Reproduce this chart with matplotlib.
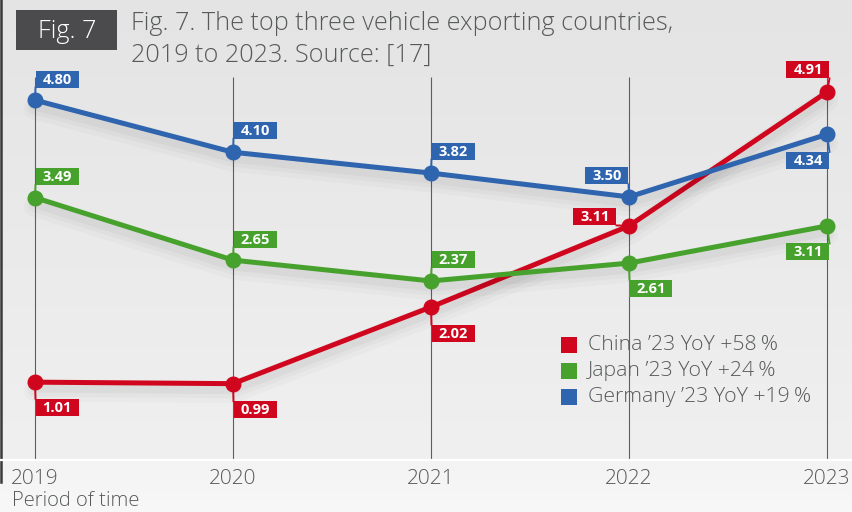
import matplotlib
matplotlib.use("Agg")
import matplotlib.pyplot as plt
import matplotlib.transforms as mtransforms
from matplotlib.patches import Rectangle
from matplotlib.lines import Line2D
from matplotlib import patheffects
import numpy as np

plt.rcParams["font.family"] = ["Open Sans", "DejaVu Sans"]

# exports in million vehicles
years = [2019, 2020, 2021, 2022, 2023]
china = [1.01, 0.99, 2.02, 3.11, 4.91]
japan = [3.49, 2.65, 2.37, 2.61, 3.11]
germany = [4.80, 4.10, 3.82, 3.50, 4.34]
countries = ["China", "Japan", "Germany"]
yoy_growth = [58, 24, 19]

RED = "#d0061f"
GREEN = "#47a12d"
BLUE = "#2f64ae"
TEXT = "#58595b"

# where each value box sits relative to its point (pixels, y up)
china_boxes = [(22, -25), (22, -26), (22, -26), (-34, 9), (-19, 22)]
japan_boxes = [(22, 21), (22, 21), (22, 21), (22, -25), (-19, -26)]
germany_boxes = [(22, 21), (22, 22), (22, 22), (-22, 21), (-19, -26)]

W, H = 853, 512
fig = plt.figure(figsize=(W / 100, H / 100), dpi=100)


def fx(px):
    return px / W


def fy(py):
    return 1 - py / H


# background: soft vertical gradient, lighter strip under the axis
bg = fig.add_axes([0, 0, 1, 1])
bg.set_axis_off()
top = np.array([0xe3, 0xe4, 0xe3]) / 255
mid = np.array([0xef, 0xf0, 0xef]) / 255
low1 = np.array([0xf2, 0xf3, 0xf2]) / 255
low2 = np.array([0xf7, 0xf8, 0xf7]) / 255
grad = np.zeros((H, 1, 3))
for r in range(H):
    if r < 460:
        t = r / 460
        grad[r, 0] = top * (1 - t) + mid * t
    else:
        t = (r - 460) / (H - 460)
        grad[r, 0] = low1 * (1 - t) + low2 * t
bg.imshow(grad, aspect="auto", extent=[0, 1, 0, 1])
bg.set_xlim(0, 1)
bg.set_ylim(0, 1)

# left frame edge and the white baseline
fig.add_artist(Line2D([fx(1), fx(1)], [fy(0), fy(482)], color="#3a3a3a", lw=1.8))
fig.add_artist(Line2D([0, 1], [fy(460), fy(460)], color="white", lw=1.6))

ax = fig.add_axes([0, fy(460), 1, 460 / H])
ax.set_facecolor("none")
ax.set_xlim(2019 - 35 / 198, 2023 + 26 / 198)
ax.set_ylim(-0.036, 6.146)
for s in ax.spines.values():
    s.set_visible(False)
ax.set_yticks([])
ax.set_xticks(years)
ax.set_xticklabels([str(y) for y in years], fontweight="light")
ax.tick_params(axis="x", length=0, pad=6.5, labelsize=15, labelcolor=TEXT)

ax.vlines(years, -0.036, 5.11, color="#5e5e5e", lw=0.8, zorder=1)

# soft drop shadow below each line
shadow = [
    patheffects.SimpleLineShadow(offset=(0, -6), shadow_color="k", alpha=0.018, linewidth=16),
    patheffects.SimpleLineShadow(offset=(0, -5), shadow_color="k", alpha=0.025, linewidth=11),
    patheffects.SimpleLineShadow(offset=(0, -4), shadow_color="k", alpha=0.03, linewidth=7),
    patheffects.Normal(),
]

series = [(china, RED, china_boxes), (japan, GREEN, japan_boxes), (germany, BLUE, germany_boxes)]
for i, (vals, col, boxes) in enumerate(series):
    ax.plot(years, vals, color=col, lw=3.6, solid_capstyle="round",
            path_effects=shadow, zorder=3 + i)
    ax.plot(years, vals, "o", color=col, ms=10.5, zorder=3 + i)

# value boxes with a short connector to the point
bw, bh = 43, 17
for vals, col, boxes in series:
    for x, v, (dx, dy) in zip(years, vals, boxes):
        tr = mtransforms.ScaledTranslation(x, v, ax.transData)
        cx = dx - bw / 2 if dx > 0 else dx + bw / 2
        cy = dy - bh / 2 if dy > 0 else dy + bh / 2
        fig.add_artist(Line2D([0, cx], [0, cy], color=col, lw=1.4, transform=tr, zorder=8))
        fig.add_artist(Rectangle((dx - bw / 2, dy - bh / 2), bw, bh, facecolor=col,
                                 edgecolor="none", transform=tr, zorder=9))
        fig.text(dx, dy - 0.5, f"{v:.2f}", transform=tr, color="white", fontsize=10.5,
                 fontweight="bold", ha="center", va="center", zorder=10)

# legend
legend_cols = [RED, GREEN, BLUE]
for k, (name, g, col) in enumerate(zip(countries, yoy_growth, legend_cols)):
    yc = 345 + 26 * k
    fig.add_artist(Rectangle((fx(561), fy(yc + 8)), 16 / W, 16 / H, facecolor=col,
                             edgecolor="none", transform=fig.transFigure, zorder=6))
    fig.text(fx(588), fy(yc), f"{name} \u201923 YoY +{g}\u2009%", color=TEXT,
             fontsize=15.3, fontweight="light", ha="left", va="center", zorder=6)

# heading
fig.add_artist(Rectangle((fx(16), fy(50)), 101 / W, 40 / H, facecolor="#4b4b4d",
                         edgecolor="none", transform=fig.transFigure))
fig.text(fx(67), fy(31), "Fig. 7", color="white", fontsize=18.2, fontweight="light",
         ha="center", va="center")
fig.text(fx(131), fy(30), "Fig. 7. The top three vehicle exporting countries,",
         color=TEXT, fontsize=18.2, fontweight="light", ha="left", va="baseline")
fig.text(fx(131), fy(62), "2019 to 2023. Source: [17]",
         color=TEXT, fontsize=18.2, fontweight="light", ha="left", va="baseline")

fig.text(fx(12), fy(506), "Period of time", color=TEXT, fontsize=14.5, fontweight="light",
         ha="left", va="baseline")

fig.savefig("out.png", dpi=100)
